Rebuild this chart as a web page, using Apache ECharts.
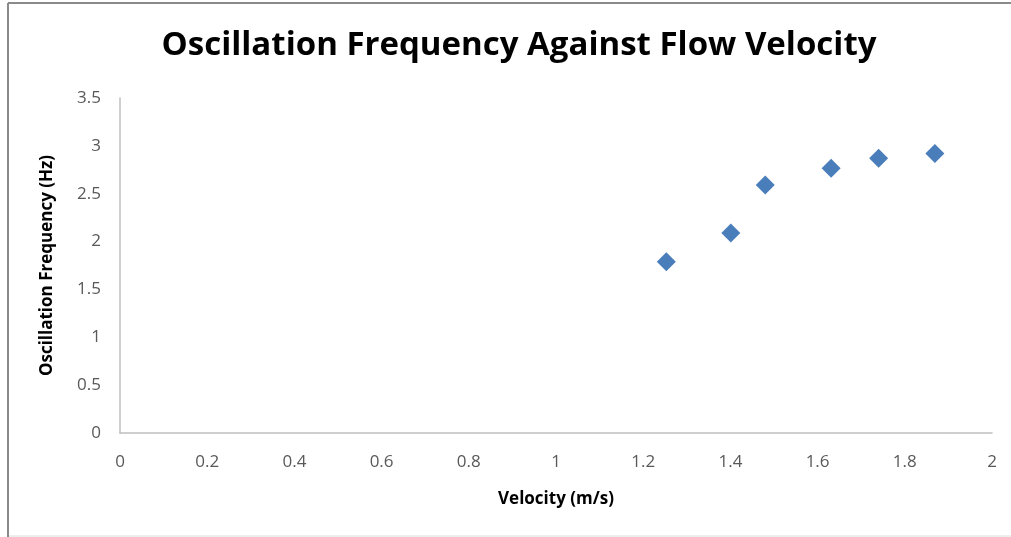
<!DOCTYPE html>
<html><head><meta charset="utf-8">
<script src="https://cdn.jsdelivr.net/npm/echarts@6/dist/echarts.min.js"></script>
<style>html,body{margin:0;padding:0;background:#fff}#c{width:1011px;height:537px}</style>
</head><body><div id="c"></div>
<script>
const velocity = [1.253, 1.401, 1.480, 1.631, 1.740, 1.869];
const frequency = [1.79, 2.09, 2.59, 2.766, 2.87, 2.92];
const titleText = 'Oscillation Frequency Against Flow Velocity';
const xName = 'Velocity (m/s)';
const yName = 'Oscillation Frequency (Hz)';

const chart = echarts.init(document.getElementById('c'));
chart.setOption({
  animation: false,
  backgroundColor: '#fff',
  graphic: [
    {type:'line', shape:{x1: 8, y1: 3, x2: 1011, y2: 3}, style:{stroke:'#8a8a8a', lineWidth:2}, silent:true},
    {type:'line', shape:{x1: 8, y1: 3, x2: 8, y2: 537}, style:{stroke:'#8a8a8a', lineWidth:2}, silent:true},
    {type:'line', shape:{x1: 9, y1: 536, x2: 1011, y2: 536}, style:{stroke:'#dcdcdc', lineWidth:1}, silent:true}
  ],
  title: {text: titleText, left: 514, textAlign: 'center', top: 24,
    textStyle: {fontFamily: 'Open Sans', fontWeight: 'bold', fontSize: 33, color: '#000'}},
  grid: {left: 120, right: 19, top: 98, bottom: 104},
  xAxis: {type: 'value', min: 0, max: 2, interval: 0.2,
    name: xName, nameLocation: 'middle', nameGap: 58,
    nameTextStyle: {fontFamily: 'Open Sans', fontWeight: 'bold', fontSize: 17, color: '#000'},
    axisLine: {lineStyle: {color: '#bfbfbf', width: 1.5}}, axisTick: {show: false},
    splitLine: {show: false},
    axisLabel: {margin: 21, fontFamily: 'Open Sans', fontSize: 17, color: '#595959',
      formatter: v => String(+v.toFixed(1))}},
  yAxis: {type: 'value', min: 0, max: 3.5, interval: 0.5,
    name: yName, nameLocation: 'middle', nameGap: 64, nameRotate: 90,
    nameTextStyle: {fontFamily: 'Open Sans', fontWeight: 'bold', fontSize: 17, color: '#000'},
    axisLine: {show: true, lineStyle: {color: '#bfbfbf', width: 1.5}}, axisTick: {show: false},
    splitLine: {show: false},
    axisLabel: {margin: 19, fontFamily: 'Open Sans', fontSize: 17, color: '#595959'}},
  series: [{type: 'scatter', symbol: 'diamond', symbolSize: 19,
    itemStyle: {color: '#4a7ebb', opacity: 1},
    data: velocity.map((v, i) => [v, frequency[i]])}]
});
</script></body></html>
